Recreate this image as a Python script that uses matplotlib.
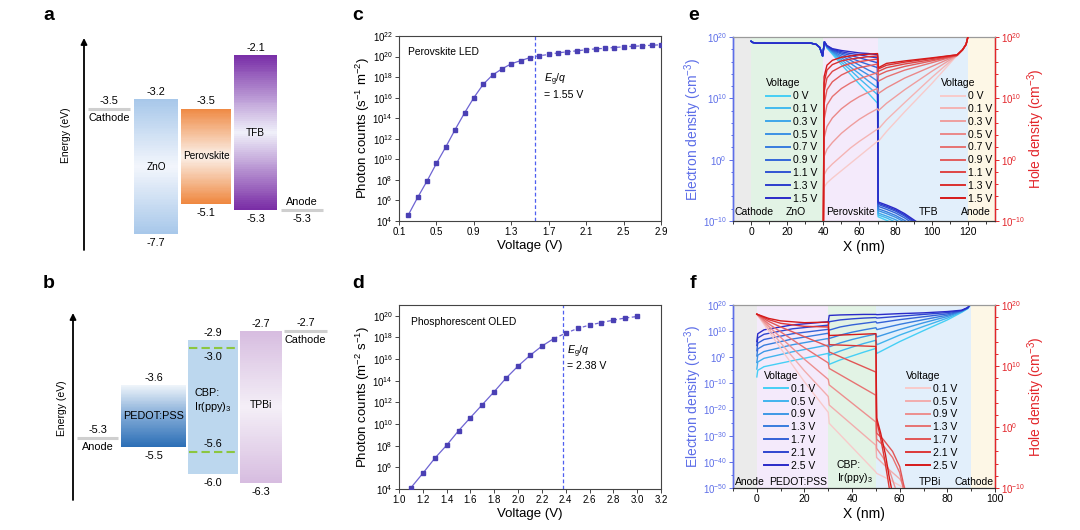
import numpy as np
import matplotlib

matplotlib.use("Agg")
import matplotlib.pyplot as plt
from matplotlib import ticker
from matplotlib.colors import LinearSegmentedColormap
from matplotlib.legend import Legend
from matplotlib.lines import Line2D

plt.rcParams["font.family"] = ["Liberation Sans", "DejaVu Sans"]
plt.rcParams["mathtext.fontset"] = "custom"
plt.rcParams["mathtext.rm"] = "Liberation Sans"
plt.rcParams["mathtext.it"] = "Liberation Sans:italic"
plt.rcParams["mathtext.bf"] = "Liberation Sans:bold"

# ---- panel a: perovskite LED energy levels (eV) ----
a_layers = ["ZnO", "Perovskite", "TFB"]
a_top = [-3.2, -3.5, -2.1]
a_bottom = [-7.7, -5.1, -5.3]
a_cathode = -3.5
a_anode = -5.3

# ---- panel b: phosphorescent OLED energy levels (eV) ----
b_layers = ["PEDOT:PSS", "CBP:\nIr(ppy)$_3$", "TPBi"]
b_top = [-3.6, -2.9, -2.7]
b_bottom = [-5.5, -6.0, -6.3]
b_dopant = [-3.0, -5.6]
b_anode = -5.3
b_cathode = -2.7

# ---- panel c: perovskite LED photon counts ----
c_volt = [0.2, 0.3, 0.4, 0.5, 0.6, 0.7, 0.8, 0.9, 1.0, 1.1, 1.2, 1.3, 1.4, 1.5,
          1.6, 1.7, 1.8, 1.9, 2.0, 2.1, 2.2, 2.3, 2.4, 2.5, 2.6, 2.7, 2.8, 2.9]
c_counts = [4.0e4, 2.0e6, 7.9e7, 4.0e9, 1.6e11, 7.9e12, 3.2e14, 1.0e16, 2.0e17,
            1.6e18, 6.3e18, 2.0e19, 4.0e19, 7.9e19, 1.2e20, 1.6e20, 2.3e20, 2.9e20,
            3.6e20, 4.6e20, 5.6e20, 6.3e20, 7.6e20, 8.9e20, 1.0e21, 1.1e21, 1.26e21,
            1.4e21]
c_eg = 1.55

# ---- panel d: phosphorescent OLED photon counts ----
d_volt = [1.1, 1.2, 1.3, 1.4, 1.5, 1.6, 1.7, 1.8, 1.9, 2.0,
          2.1, 2.2, 2.3, 2.4, 2.5, 2.6, 2.7, 2.8, 2.9, 3.0]
d_counts = [1.3e4, 2.8e5, 6.8e6, 1.1e8, 2.4e9, 4.0e10, 6.3e11, 1.0e13, 1.8e14,
            2.3e15, 2.2e16, 1.6e17, 7.9e17, 2.5e18, 6.8e18, 1.4e19, 2.4e19,
            4.0e19, 6.3e19, 8.7e19]
d_eg = 2.38

# ---- panel e: carrier profiles, perovskite LED (log10 of cm^-3) ----
e_volts = ["0 V", "0.1 V", "0.3 V", "0.5 V", "0.7 V", "0.9 V", "1.1 V", "1.3 V", "1.5 V"]
e_regions = ["Cathode", "ZnO", "Perovskite", "TFB", "Anode"]
e_bounds = [-10, 0, 40, 70, 120, 135]

e_elec_zno_x = [0, 1, 3, 33, 36, 38, 39.6]
e_elec_zno = [19.3, 19.1, 19.0, 19.0, 18.8, 18.3, 16.9]
e_elec_pvk_x = [40.6, 42, 45, 50, 55, 60, 65, 70]
e_elec_pvk = [
    [19.2, 18.2, 17.2, 15.5, 13.9, 12.3, 10.8, 9.2],
    [19.2, 18.3, 17.4, 15.9, 14.6, 13.2, 11.9, 10.6],
    [19.2, 18.3, 17.5, 16.3, 15.1, 14.0, 12.8, 11.7],
    [19.2, 18.4, 17.6, 16.6, 15.7, 14.7, 13.8, 12.8],
    [19.2, 18.4, 17.7, 16.9, 16.2, 15.4, 14.6, 13.9],
    [19.2, 18.5, 17.8, 17.2, 16.6, 16.0, 15.5, 15.0],
    [19.2, 18.5, 17.9, 17.4, 17.0, 16.6, 16.2, 15.8],
    [19.2, 18.6, 18.0, 17.6, 17.3, 17.1, 16.8, 16.6],
    [19.2, 18.6, 18.1, 17.8, 17.6, 17.4, 17.3, 17.1],
]
e_elec_tfb_x = [70.3, 75, 80, 85, 90, 95]
e_elec_tfb = [
    [-9.3, -9.9, -10.6, -11.5, -12.5, -13.5],
    [-9.0, -9.5, -10.2, -11.0, -12.0, -13.0],
    [-8.7, -9.2, -9.8, -10.6, -11.6, -12.6],
    [-8.3, -8.8, -9.4, -10.2, -11.2, -12.2],
    [-8.0, -8.5, -9.1, -9.9, -10.9, -11.9],
    [-7.6, -8.1, -8.7, -9.5, -10.5, -11.5],
    [-7.3, -7.8, -8.4, -9.2, -10.2, -11.2],
    [-7.1, -7.6, -8.2, -9.0, -10.0, -11.0],
    [-6.9, -7.4, -8.0, -8.8, -9.8, -10.8],
]
e_hole_pvk_x = [40, 40.4, 42, 45, 50, 55, 60, 65, 70]
e_hole_pvk = [
    [-12, -4.5, -3.8, -3.0, -1.8, -0.6, 0.6, 1.8, 3.0],
    [-12, -2.5, -1.6, -0.7, 0.6, 1.9, 3.0, 4.0, 5.0],
    [-12, 0.5, 1.7, 2.8, 4.3, 5.5, 6.6, 7.5, 8.3],
    [-12, 3.5, 5.4, 6.8, 8.3, 9.4, 10.3, 11.0, 11.6],
    [-12, 6.5, 8.9, 10.3, 11.6, 12.5, 13.2, 13.7, 14.2],
    [-12, 9.0, 11.4, 12.7, 13.8, 14.5, 15.0, 15.3, 15.6],
    [-12, 11.0, 13.3, 14.4, 15.2, 15.7, 16.0, 16.2, 16.4],
    [-12, 12.5, 14.6, 15.5, 16.1, 16.4, 16.6, 16.8, 16.9],
    [-12, 13.5, 15.4, 16.2, 16.7, 16.9, 17.1, 17.2, 17.3],
]
e_hole_tfb_x = [70.5, 75, 85, 100, 114, 117, 119, 120]
e_hole_tfb = [
    [3.0, 4.6, 7.8, 12.4, 17.0, 17.9, 18.8, 20.0],
    [5.0, 6.5, 9.3, 13.4, 17.0, 17.9, 18.8, 20.0],
    [8.0, 9.2, 11.4, 14.4, 17.0, 17.9, 18.8, 20.0],
    [10.8, 11.7, 13.3, 15.2, 17.0, 17.9, 18.8, 20.0],
    [12.8, 13.5, 14.6, 15.8, 17.0, 17.9, 18.8, 20.0],
    [13.8, 14.4, 15.2, 16.1, 17.0, 17.9, 18.8, 20.0],
    [14.4, 15.0, 15.6, 16.3, 17.0, 17.9, 18.8, 20.0],
    [14.8, 15.4, 15.9, 16.5, 17.1, 17.9, 18.8, 20.0],
    [15.0, 15.7, 16.1, 16.6, 17.1, 17.9, 18.8, 20.0],
]

# ---- panel f: carrier profiles, phosphorescent OLED (log10 of cm^-3) ----
f_volts = ["0.1 V", "0.5 V", "0.9 V", "1.3 V", "1.7 V", "2.1 V", "2.5 V"]
f_regions = ["Anode", "PEDOT:PSS", "CBP:\nIr(ppy)$_3$", "TPBi", "Cathode"]
f_bounds = [-10, 0, 30, 50, 90, 100]

f_elec_pedot_x = [0, 0.4, 3, 15, 30]
f_elec_pedot = [
    [-7.5, -5.0, -3.6, -1.3, 1.5],
    [-4.5, -1.8, -0.4, 2.1, 4.7],
    [-2.0, 0.8, 2.2, 4.8, 7.2],
    [0.5, 3.2, 4.6, 7.0, 9.2],
    [2.5, 5.4, 6.8, 9.0, 10.7],
    [4.5, 7.4, 8.8, 10.9, 12.3],
    [6.0, 9.0, 10.5, 12.4, 13.6],
]
f_elec_cbp_x = [30.4, 35, 40, 45, 50]
f_elec_cbp = [
    [-2.7, -1.0, 0.5, 2.0, 3.4],
    [0.8, 2.4, 3.9, 5.3, 6.5],
    [4.0, 5.5, 6.8, 7.9, 8.9],
    [7.2, 8.5, 9.6, 10.5, 11.3],
    [10.4, 11.6, 12.4, 13.0, 13.6],
    [13.6, 14.3, 14.7, 15.0, 15.2],
    [16.0, 16.2, 16.3, 16.4, 16.4],
]
f_elec_tpbi_x = [50.4, 60, 70, 80, 86, 88.5, 90]
f_elec_tpbi = [
    [1.5, 6.0, 10.2, 14.3, 17.2, 18.6, 20.5],
    [4.8, 8.5, 11.8, 15.0, 17.4, 18.7, 20.5],
    [7.8, 10.6, 13.2, 15.6, 17.6, 18.8, 20.5],
    [10.6, 12.6, 14.4, 16.1, 17.7, 18.8, 20.5],
    [13.1, 14.4, 15.5, 16.6, 17.8, 18.9, 20.5],
    [15.0, 15.7, 16.4, 17.1, 17.9, 18.9, 20.5],
    [16.3, 16.7, 17.0, 17.5, 18.0, 19.0, 20.5],
]
f_hole_pedot_x = [0, 5, 10, 20, 30]
f_hole_pedot = [
    [18.5, 15.7, 12.9, 7.4, 2.4],
    [18.5, 16.1, 13.8, 9.2, 5.0],
    [18.5, 16.5, 14.7, 11.1, 7.8],
    [18.5, 16.9, 15.6, 13.0, 10.5],
    [18.5, 17.3, 16.4, 14.8, 13.2],
    [18.5, 17.6, 17.0, 16.5, 16.4],
    [18.5, 17.8, 17.4, 17.1, 17.2],
]
f_hole_cbp_x = [30.4, 50]
f_hole_cbp = [
    [0.6, -7.4],
    [3.6, -3.0],
    [6.9, 0.8],
    [9.6, 5.2],
    [12.3, 9.0],
    [13.5, 13.2],
    [15.0, 15.3],
]
f_hole_tpbi_x = [
    [50.3, 55, 60, 64],
    [50.3, 55, 60, 63],
    [50.3, 53, 56, 59],
    [50.3, 53, 57, 60, 62],
    [50.3, 53, 57, 60, 62.5],
    [50.3, 51.8, 53.5, 55, 56],
    [50.3, 52, 54, 55.5, 57],
]
f_hole_tpbi = [
    [-7.6, -8.5, -9.6, -10.8],
    [-5.0, -6.8, -8.5, -10.5],
    [-3.5, -5.0, -7.5, -11.0],
    [-2.0, -3.0, -5.0, -7.5, -11.0],
    [-1.0, -2.0, -4.0, -6.5, -11.0],
    [1.0, -1.5, -5.0, -8.5, -11.0],
    [1.5, -1.0, -4.5, -8.0, -11.0],
]

BLUE_AX = "#5d6ee8"
RED_AX = "#e3262b"
blues = LinearSegmentedColormap.from_list("blues_v", ["#45cff5", "#2a2ac8"])
reds = LinearSegmentedColormap.from_list("reds_v", ["#f8caca", "#d61a1a"])


def energy_scale(levels, positions):
    def fwd(e):
        return np.interp(e, levels, positions)

    def inv(p):
        return np.interp(p, positions, levels)

    return fwd, inv


def gradient_box(ax, x0, x1, lo, hi, colors, fwd, inv):
    cmap = LinearSegmentedColormap.from_list("g", colors)
    pos = np.linspace(fwd(lo), fwd(hi), 81)
    edges = inv(pos)
    shade = np.linspace(0, 1, 80).reshape(-1, 1)
    ax.pcolormesh([x0, x1], edges, shade, cmap=cmap, vmin=0, vmax=1,
                  shading="flat", zorder=1)


def level_labels(ax, x, hi, lo, fs=7.8):
    ax.annotate(f"{hi:.1f}", (x, hi), xytext=(0, 1.5), textcoords="offset points",
                ha="center", va="bottom", fontsize=fs)
    ax.annotate(f"{lo:.1f}", (x, lo), xytext=(0, -3), textcoords="offset points",
                ha="center", va="top", fontsize=fs)


def electrode(ax, x0, x1, level, name, name_above):
    ax.plot([x0, x1], [level, level], color="#cfcfcf", lw=2.2, solid_capstyle="butt")
    xc = (x0 + x1) / 2
    value_off, name_off = (-3, 2) if name_above else (2, -3)
    ax.annotate(f"{level:.1f}", (xc, level), xytext=(0, value_off), textcoords="offset points",
                ha="center", va="top" if name_above else "bottom", fontsize=7.8)
    ax.annotate(name, (xc, level), xytext=(0, name_off), textcoords="offset points",
                ha="center", va="bottom" if name_above else "top", fontsize=7.8)


def energy_axis(ax, x, y0, y1, label_x, label_y):
    trans = ax.get_xaxis_transform()
    ax.annotate("", xy=(x, y1), xytext=(x, y0), xycoords=trans, textcoords=trans,
                arrowprops=dict(arrowstyle="-|>", color="black", lw=1.3, mutation_scale=9,
                                shrinkA=0, shrinkB=0))
    ax.text(label_x, label_y, "Energy (eV)", transform=trans, rotation=90,
            ha="center", va="center", fontsize=7.5)


def plot_panel_a(fig):
    ax = fig.add_axes([0, 0.5, 1 / 3, 0.5])
    fwd, inv = energy_scale([-10.8, -7.7, -5.3, -5.1, -3.5, -3.2, -2.1, -0.725],
                            [0, 31, 55, 61, 156.5, 166, 210, 265])
    ax.set_yscale("function", functions=(fwd, inv))
    ax.set_xlim(0, 360)
    ax.set_ylim(-10.8, -0.725)
    ax.set_axis_off()

    spans = [(134, 178), (181, 231), (234, 277)]
    palettes = [["#a8c8ea", "#f3f6fc", "#a8c8ea"],
                ["#ef8840", "#fbf1ea", "#ef8a44"],
                ["#7a2ea6", "#f0f1fa", "#7a30a8"]]
    for name, (x0, x1), hi, lo, pal in zip(a_layers, spans, a_top, a_bottom, palettes):
        gradient_box(ax, x0, x1, lo, hi, pal, fwd, inv)
        level_labels(ax, (x0 + x1) / 2, hi, lo)
        mid = inv((fwd(lo) + fwd(hi)) / 2)
        ax.text((x0 + x1) / 2, mid, name, ha="center", va="center", fontsize=7.2)

    electrode(ax, 88, 130, a_cathode, "Cathode", name_above=False)
    electrode(ax, 281, 323, a_anode, "Anode", name_above=True)
    energy_axis(ax, 84, 15 / 265, 227 / 265, 66, 130 / 265)


def plot_panel_b(fig):
    ax = fig.add_axes([0, 0, 1 / 3, 0.5])
    fwd, inv = energy_scale([-7.87, -6.3, -6.0, -5.6, -5.5, -5.3, -3.6, -3.0, -2.9, -2.7, -1.23],
                            [0, 47, 56, 78, 83, 92, 145, 182, 190, 199, 265])
    ax.set_yscale("function", functions=(fwd, inv))
    ax.set_xlim(0, 360)
    ax.set_ylim(-7.87, -1.23)
    ax.set_axis_off()

    spans = [(121, 186), (188, 238), (240, 282)]
    palettes = [["#2c6fb6", "#7fa9d6", "#eef4fa"],
                ["#bcd7ee", "#bcd7ee"],
                ["#d7bde0", "#f4eff7", "#d7bde0"]]
    label_pos = [114, 129, 125]
    for name, (x0, x1), hi, lo, pal, lp in zip(b_layers, spans, b_top, b_bottom,
                                               palettes, label_pos):
        gradient_box(ax, x0, x1, lo, hi, pal, fwd, inv)
        level_labels(ax, (x0 + x1) / 2, hi, lo)
        ax.text((x0 + x1) / 2, inv(lp), name, ha="center", va="center",
                fontsize=7.8 if name != "TPBi" else 7.5, multialignment="left",
                linespacing=1.1)

    x0, x1 = spans[1]
    for level, above in zip(b_dopant, [False, True]):
        ax.plot([x0 + 1, x1 - 1], [level, level], color="#8cc63f", lw=1.5, ls=(0, (4, 2)))
        ax.annotate(f"{level:.1f}", ((x0 + x1) / 2, level),
                    xytext=(0, 2 if above else -3), textcoords="offset points",
                    ha="center", va="bottom" if above else "top", fontsize=7.8)

    electrode(ax, 77, 118, b_anode, "Anode", name_above=False)
    electrode(ax, 284, 327, b_cathode, "Cathode", name_above=False)
    energy_axis(ax, 73, 30 / 265, 217 / 265, 62, 122 / 265)


def style_counts_axis(ax):
    for sp in ax.spines.values():
        sp.set_color("#444444")
        sp.set_linewidth(0.8)
    ax.set_yscale("log")
    ax.yaxis.set_minor_locator(ticker.NullLocator())
    ax.tick_params(axis="both", direction="out", length=3, width=0.7, labelsize=7,
                   pad=1.5, color="#444444")
    ax.xaxis.set_major_formatter(ticker.FormatStrFormatter("%.1f"))
    ax.set_xlabel("Voltage (V)", fontsize=9.5, labelpad=2)


def plot_counts(ax, volt, counts, eg, xticks, ylim, ylabel, title, text_pos):
    volt = np.asarray(volt)
    counts = np.asarray(counts)
    line_c = "#6e64d2"
    k = int((volt <= eg).sum())
    ax.plot(volt[:k], counts[:k], color=line_c, lw=0.9, zorder=2)
    ax.plot(volt[k - 1:], counts[k - 1:], color=line_c, lw=0.9, ls=(0, (3, 2)), zorder=2)
    ax.plot(volt, counts, ls="none", marker="s", ms=3.3, color="#4a40b4", zorder=3)
    ax.axvline(eg, color="#4f5ff0", lw=0.9, ls=(0, (3, 2)), zorder=1)
    style_counts_axis(ax)
    ax.set_xlim(xticks[0], xticks[-1])
    ax.set_xticks(xticks)
    ax.set_ylim(*ylim)
    lo, hi = int(np.log10(ylim[0])), int(np.log10(ylim[1]))
    ax.set_yticks(10.0 ** np.arange(lo, hi + 1, 2))
    ax.set_ylabel(ylabel, fontsize=9.5, labelpad=0)
    ax.text(text_pos[0], text_pos[1], title, transform=ax.transAxes, fontsize=7.4,
            ha="left", va="center")
    ax.text(text_pos[2], text_pos[3], r"$E_{\rm g}$/$q$", transform=ax.transAxes,
            fontsize=7.6, ha="left", va="center")
    ax.text(text_pos[2], text_pos[4], f"= {eg:.2f} V", transform=ax.transAxes,
            fontsize=7.6, ha="left", va="center")


def draw_profiles(ax, segments, colors, lw=1.0):
    for i, color in enumerate(colors):
        xs, ys = [], []
        for seg_x, seg_y in segments:
            row_x = seg_x[i] if isinstance(seg_x[0], list) else seg_x
            row_y = seg_y[i] if isinstance(seg_y[0], list) else seg_y
            xs += list(row_x)
            ys += list(row_y)
        ax.plot(xs, 10.0 ** np.asarray(ys), color=color, lw=lw, zorder=3)


def density_axes(fig, rect, bounds, region_colors, left_range, left_major,
                 left_minor, xmajor):
    ax = fig.add_axes(rect)
    ax.set_yscale("log")
    ax.set_xlim(bounds[0], bounds[-1])
    ax.set_ylim(10.0 ** left_range[0], 10.0 ** left_range[1])
    for x0, x1, color in zip(bounds[:-1], bounds[1:], region_colors):
        ax.axvspan(x0, x1, color=color, lw=0, zorder=0)
    ax.set_yticks(10.0 ** np.arange(left_range[0], left_range[1] + 1, left_major))
    ax.yaxis.set_minor_locator(ticker.FixedLocator(
        10.0 ** np.arange(left_range[0], left_range[1] + 1, left_minor)))
    ax.yaxis.set_minor_formatter(ticker.NullFormatter())
    ax.xaxis.set_major_locator(ticker.MultipleLocator(xmajor))
    ax.xaxis.set_minor_locator(ticker.MultipleLocator(xmajor / 2))
    ax.tick_params(axis="x", which="both", direction="out", labelsize=7.5, pad=1.5,
                   color="#333333", width=0.7)
    ax.tick_params(axis="x", which="major", length=3)
    ax.tick_params(axis="x", which="minor", length=1.8)
    ax.tick_params(axis="y", which="both", colors=BLUE_AX, labelsize=7, pad=1.5, width=0.7)
    ax.tick_params(axis="y", which="major", length=3)
    ax.tick_params(axis="y", which="minor", length=1.8)
    ax.spines["left"].set_color(BLUE_AX)
    ax.spines["left"].set_linewidth(1.0)
    ax.spines["top"].set_color("#9a9a9a")
    ax.spines["bottom"].set_color("#333333")
    ax.set_xlabel("X (nm)", fontsize=10, labelpad=2)
    ax.set_ylabel("Electron density (cm$^{-3}$)", fontsize=10, color=BLUE_AX, labelpad=-1)

    ax2 = ax.twinx()
    ax2.set_yscale("log")
    ax2.set_ylim(1e-10, 1e20)
    ax2.set_yticks(10.0 ** np.arange(-10, 21, 10))
    ax2.yaxis.set_minor_locator(ticker.FixedLocator(10.0 ** np.arange(-10, 21, 2)))
    ax2.yaxis.set_minor_formatter(ticker.NullFormatter())
    ax2.tick_params(axis="y", which="both", colors=RED_AX, labelsize=7, pad=1.5, width=0.7)
    ax2.tick_params(axis="y", which="major", length=3)
    ax2.tick_params(axis="y", which="minor", length=1.8)
    ax2.spines["right"].set_color(RED_AX)
    ax2.spines["right"].set_linewidth(1.0)
    ax2.spines["left"].set_color(BLUE_AX)
    ax2.spines["left"].set_linewidth(1.0)
    ax2.spines["top"].set_color("#9a9a9a")
    ax2.spines["bottom"].set_color("#333333")
    ax2.set_ylabel("Hole density (cm$^{-3}$)", fontsize=10, color=RED_AX, labelpad=0)
    return ax, ax2


def voltage_legend(ax, labels, colors, anchor):
    handles = [Line2D([], [], color=c, lw=1.4) for c in colors]
    leg = Legend(ax, handles, labels, title="Voltage", loc="upper left",
                 bbox_to_anchor=anchor, frameon=False, fontsize=7.5,
                 title_fontsize=7.5, handlelength=2.3, handletextpad=0.3,
                 labelspacing=0.27, borderpad=0, borderaxespad=0, alignment="left")
    ax.add_artist(leg)


def region_labels(ax, labels, xs, ys, aligns):
    trans = ax.get_xaxis_transform()
    for text, x, y, ha in zip(labels, xs, ys, aligns):
        ax.text(x, y, text, transform=trans, ha=ha, va="center", fontsize=7.5,
                multialignment="left", linespacing=1.05, zorder=5)


def plot_panel_e(fig):
    colors = ["#ebebeb", "#e2f3e5", "#f4eafb", "#e2effb", "#fdf7e6"]
    ax, ax2 = density_axes(fig, [733 / 1080, 1 - 221 / 530, 262 / 1080, 184 / 530],
                           e_bounds, colors, (-10, 20), 10, 2, 20)
    n = len(e_volts)
    bcol = [blues(t) for t in np.linspace(0, 1, n)]
    rcol = [reds(t) for t in np.linspace(0, 1, n)]
    draw_profiles(ax, [(e_elec_zno_x, e_elec_zno), (e_elec_pvk_x, e_elec_pvk),
                       (e_elec_tfb_x, e_elec_tfb)], bcol)
    draw_profiles(ax2, [(e_hole_pvk_x, e_hole_pvk), (e_hole_tfb_x, e_hole_tfb)], rcol)
    region_labels(ax2, e_regions, [-9.3, 25, 55.3, 98.3, 124.5], [0.05] * 5,
                  ["left", "center", "center", "center", "center"])
    voltage_legend(ax2, e_volts, bcol, (0.126, 0.775))
    voltage_legend(ax2, e_volts, rcol, (0.794, 0.775))


def plot_panel_f(fig):
    colors = ["#ebebeb", "#f4eafb", "#e2f3e5", "#e2effb", "#fdf7e6"]
    ax, ax2 = density_axes(fig, [733 / 1080, 1 - 488 / 530, 262 / 1080, 183 / 530],
                           f_bounds, colors, (-50, 20), 10, 5, 20)
    n = len(f_volts)
    bcol = [blues(t) for t in np.linspace(0, 1, n)]
    rcol = [reds(t) for t in np.linspace(0, 1, n)]
    draw_profiles(ax, [(f_elec_pedot_x, f_elec_pedot), (f_elec_cbp_x, f_elec_cbp),
                       (f_elec_tpbi_x, f_elec_tpbi)], bcol)
    draw_profiles(ax2, [(f_hole_pedot_x, f_hole_pedot), (f_hole_cbp_x, f_hole_cbp),
                        (f_hole_tpbi_x, f_hole_tpbi)], rcol)
    region_labels(ax2, f_regions, [-9.3, 17.2, 33.5, 72.8, 91.2],
                  [0.035, 0.035, 0.085, 0.035, 0.035],
                  ["left", "center", "left", "center", "center"])
    voltage_legend(ax2, f_volts, bcol, (0.118, 0.64))
    voltage_legend(ax2, f_volts, rcol, (0.66, 0.64))


def main() -> None:
    fig = plt.figure(figsize=(10.8, 5.3), dpi=100)

    plot_panel_a(fig)
    plot_panel_b(fig)

    ax_c = fig.add_axes([399 / 1080, 1 - 221 / 530, 262 / 1080, 185 / 530])
    plot_counts(ax_c, c_volt, c_counts, c_eg, np.round(np.arange(0.1, 2.95, 0.4), 1),
                (1e4, 1e22), "Photon counts (s$^{-1}$ m$^{-2}$)", "Perovskite LED",
                (0.034, 0.913, 0.553, 0.762, 0.681))
    ax_d = fig.add_axes([399 / 1080, 1 - 489 / 530, 262 / 1080, 184 / 530])
    plot_counts(ax_d, d_volt, d_counts, d_eg, np.round(np.arange(1.0, 3.25, 0.2), 1),
                (1e4, 1e21), "Photon counts (m$^{-2}$ s$^{-1}$)", "Phosphorescent OLED",
                (0.045, 0.909, 0.641, 0.745, 0.668))

    plot_panel_e(fig)
    plot_panel_f(fig)

    for letter, x, y in [("a", 43, 15), ("b", 43, 284), ("c", 352, 15),
                         ("d", 352, 284), ("e", 688, 15), ("f", 690, 284)]:
        fig.text(x / 1080, 1 - y / 530, letter, fontsize=14, fontweight="bold",
                 ha="left", va="center")

    fig.savefig("out.png", dpi=100)
    plt.close(fig)


if __name__ == "__main__":
    main()
